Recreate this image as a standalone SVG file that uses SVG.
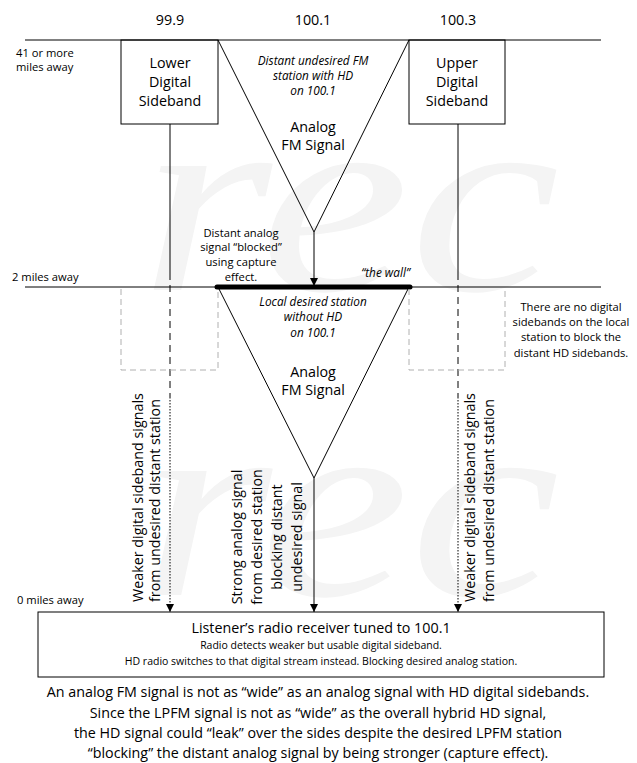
<svg xmlns="http://www.w3.org/2000/svg" width="637" height="763" viewBox="0 0 637 763">
<style>
text{font-family:"Open Sans","Liberation Sans",sans-serif;fill:#000}
.c{text-anchor:middle}
.t14{font-size:14.3px}
.t11{font-size:11.2px}
.it{font-style:italic;font-size:11.8px}
.ln{stroke:#000;stroke-width:1;fill:none}
.gd{stroke:#b0b0b0;stroke-width:1;fill:none;stroke-dasharray:6,4}
.dash{stroke:#000;stroke-width:1;fill:none;stroke-dasharray:7,5}
.dot{stroke:#000;stroke-width:1;fill:none;stroke-dasharray:1.5,1.5}
.wm{font-family:"Liberation Serif",serif;font-style:italic;font-size:270px;fill:#f4f4f4}
</style>
<defs>
<marker id="ah" viewBox="0 0 10 10" refX="10" refY="5" markerWidth="8" markerHeight="10" markerUnits="userSpaceOnUse" orient="auto">
<path d="M0,0 L10,5 L0,10 z" fill="#000"/>
</marker>
</defs>
<rect width="637" height="763" fill="#fff"/>
<g id="watermark">
<text class="wm" x="140" y="290" textLength="420" lengthAdjust="spacingAndGlyphs">rec</text>
<text class="wm" x="140" y="595" textLength="420" lengthAdjust="spacingAndGlyphs">rec</text>
</g>
<g id="labels">
<text class="c t14" x="170" y="25">99.9</text>
<text class="c t14" x="313" y="25">100.1</text>
<text class="c t14" x="458" y="25">100.3</text>
<text class="t11" x="16" y="57">41 or more</text>
<text class="t11" x="16" y="71">miles away</text>
<text class="t11" x="12" y="281">2 miles away</text>
<text class="t11" x="17" y="604">0 miles away</text>
</g>
<g id="connectors">
<line class="ln" x1="25" y1="40" x2="601" y2="40"/>
<line class="ln" x1="25" y1="287" x2="601" y2="287"/>
<line x1="217" y1="287" x2="410" y2="287" stroke="#000" stroke-width="5" stroke-linecap="round"/>
<line class="ln" x1="170" y1="124" x2="170" y2="273"/>
<line class="dash" x1="170" y1="273" x2="170" y2="397"/>
<line class="dot" x1="170" y1="397" x2="170" y2="612" marker-end="url(#ah)"/>
<line class="ln" x1="458" y1="124" x2="458" y2="273"/>
<line class="dash" x1="458" y1="273" x2="458" y2="397"/>
<line class="dot" x1="458" y1="397" x2="458" y2="612" marker-end="url(#ah)"/>
<line class="ln" x1="314" y1="232" x2="314" y2="286" marker-end="url(#ah)"/>
<line class="ln" x1="314" y1="478" x2="314" y2="612" marker-end="url(#ah)"/>
</g>
<g id="lower-sideband">
<rect class="ln" x="121" y="40" width="97" height="84"/>
<text class="c t14" x="170" y="68">Lower</text>
<text class="c t14" x="170" y="87">Digital</text>
<text class="c t14" x="170" y="106">Sideband</text>
</g>
<g id="upper-sideband">
<rect class="ln" x="409" y="40" width="96" height="84"/>
<text class="c t14" x="457" y="68">Upper</text>
<text class="c t14" x="457" y="87">Digital</text>
<text class="c t14" x="457" y="106">Sideband</text>
</g>
<g id="distant-fm">
<path class="ln" d="M218,40 L314,232 L409,40"/>
<text class="c it" x="313" y="65">Distant undesired FM</text>
<text class="c it" x="313" y="80">station with HD</text>
<text class="c it" x="313" y="95">on 100.1</text>
<text class="c t14" x="313" y="132">Analog</text>
<text class="c t14" x="313" y="150">FM Signal</text>
</g>
<g id="blocked-note">
<text class="c t11" x="241" y="237">Distant analog</text>
<text class="c t11" x="241" y="251">signal “blocked”</text>
<text class="c t11" x="241" y="266">using capture</text>
<text class="c t11" x="241" y="281">effect.</text>
<text class="it" x="410" y="277" text-anchor="end">“the wall”</text>
</g>
<g id="local-fm">
<path class="ln" d="M218,287 L314,478 L409,287"/>
<text class="c it" x="313" y="306">Local desired station</text>
<text class="c it" x="313" y="321">without HD</text>
<text class="c it" x="313" y="337">on 100.1</text>
<text class="c t14" x="313" y="377">Analog</text>
<text class="c t14" x="313" y="395">FM Signal</text>
</g>
<g id="ghost-left"><path class="gd" d="M121,289 V370 H218 V289"/></g>
<g id="ghost-right"><path class="gd" d="M409,289 V370 H505 V289"/></g>
<g id="no-sidebands-note">
<text class="c t11" x="571" y="311">There are no digital</text>
<text class="c t11" x="571" y="326">sidebands on the local</text>
<text class="c t11" x="571" y="341">station to block the</text>
<text class="c t11" x="571" y="357">distant HD sidebands.</text>
</g>
<g id="left-weak-label" transform="translate(0,602) rotate(-90)">
<text class="t14" x="0" y="143">Weaker digital sideband signals</text>
<text class="t14" x="0" y="160">from undesired distant station</text>
</g>
<g id="strong-label" transform="translate(0,537) rotate(-90)">
<text class="c t14" x="0" y="242">Strong analog signal</text>
<text class="c t14" x="0" y="262">from desired station</text>
<text class="c t14" x="0" y="282">blocking distant</text>
<text class="c t14" x="0" y="302">undesired signal</text>
</g>
<g id="right-weak-label" transform="translate(0,602) rotate(-90)">
<text class="t14" x="0" y="475">Weaker digital sideband signals</text>
<text class="t14" x="0" y="494">from undesired distant station</text>
</g>
<g id="receiver">
<rect class="ln" x="38" y="612" width="566" height="65"/>
<text class="c t14" x="321" y="633">Listener’s radio receiver tuned to 100.1</text>
<text class="c" x="321" y="649" font-size="10.5">Radio detects weaker but usable digital sideband.</text>
<text class="c" x="321" y="665" font-size="10.5">HD radio switches to that digital stream instead. Blocking desired analog station.</text>
</g>
<g id="caption">
<text class="c t14" x="318" y="697">An analog FM signal is not as “wide” as an analog signal with HD digital sidebands.</text>
<text class="c t14" x="318" y="718">Since the LPFM signal is not as “wide” as the overall hybrid HD signal,</text>
<text class="c t14" x="318" y="738">the HD signal could “leak” over the sides despite the desired LPFM station</text>
<text class="c t14" x="318" y="758">“blocking” the distant analog signal by being stronger (capture effect).</text>
</g>
</svg>
